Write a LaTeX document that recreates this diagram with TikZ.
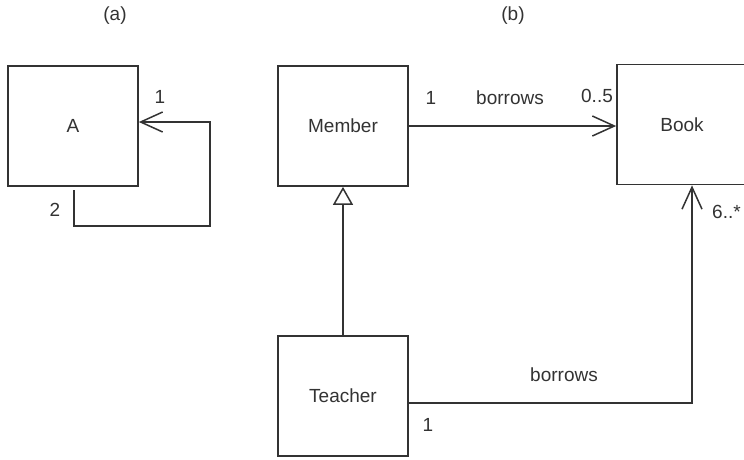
\documentclass[tikz,border=0pt]{standalone}
\usepackage{fontspec}
\setmainfont{Liberation Sans}
\usetikzlibrary{arrows.meta}
\definecolor{ink}{HTML}{333333}
\begin{document}
\begin{tikzpicture}[x=1pt,y=-1pt,
  every node/.style={text=ink,font=\fontsize{19}{22}\selectfont},
  cls/.style={draw=ink,line width=1.7pt,minimum width=130pt,minimum height=120pt,inner sep=0pt},
  lbl/.style={inner sep=0pt},
  assoc/.style={draw=ink,line width=1.5pt,-{Straight Barb[length=22pt,width=20pt,line width=1.5pt]}},
  gen/.style={draw=ink,line width=1.5pt,-{Triangle[open,length=18pt,width=20pt,line width=1.5pt]}}]
\useasboundingbox[fill=white] (0,0) rectangle (744,459);

% panel titles
\node[lbl] (ta) at (115,16) {(a)};
\node[lbl] (tb) at (513,16) {(b)};

% (a) class with a self association
\node[cls] (A) at (73,126) {A};
\coordinate (a2) at (74,190);
\coordinate (acorner) at (210,226);
\draw[assoc] (a2) |- (acorner) |- ([yshift=4pt]A.east);
\node[lbl] (m1) at (160,97) {1};
\node[lbl] (m2) at (55,210) {2};

% (b) library model
\node[cls] (Member) at (343,126) {Member};
\node[cls] (Book) at (682,124.5) {Book};
\node[cls] (Teacher) at (343,396) {Teacher};

\draw[assoc] (Member.east) -- (Member.east -| Book.west);
\node[lbl] (mb1) at (431,98) {1};
\node[lbl] (mbr) at (510,98) {borrows};
\node[lbl] (mb2) at (597,96) {0..5};

\draw[gen] (Teacher.north) -- (Member.south);

\draw[assoc] ([yshift=-7pt]Teacher.east) -| ([xshift=10pt]Book.south);
\node[lbl] (tbr) at (564,375) {borrows};
\node[lbl] (tb1) at (428,425) {1};
\node[lbl,anchor=west] (tb2) at (712,212) {6..*};
\end{tikzpicture}
\end{document}
